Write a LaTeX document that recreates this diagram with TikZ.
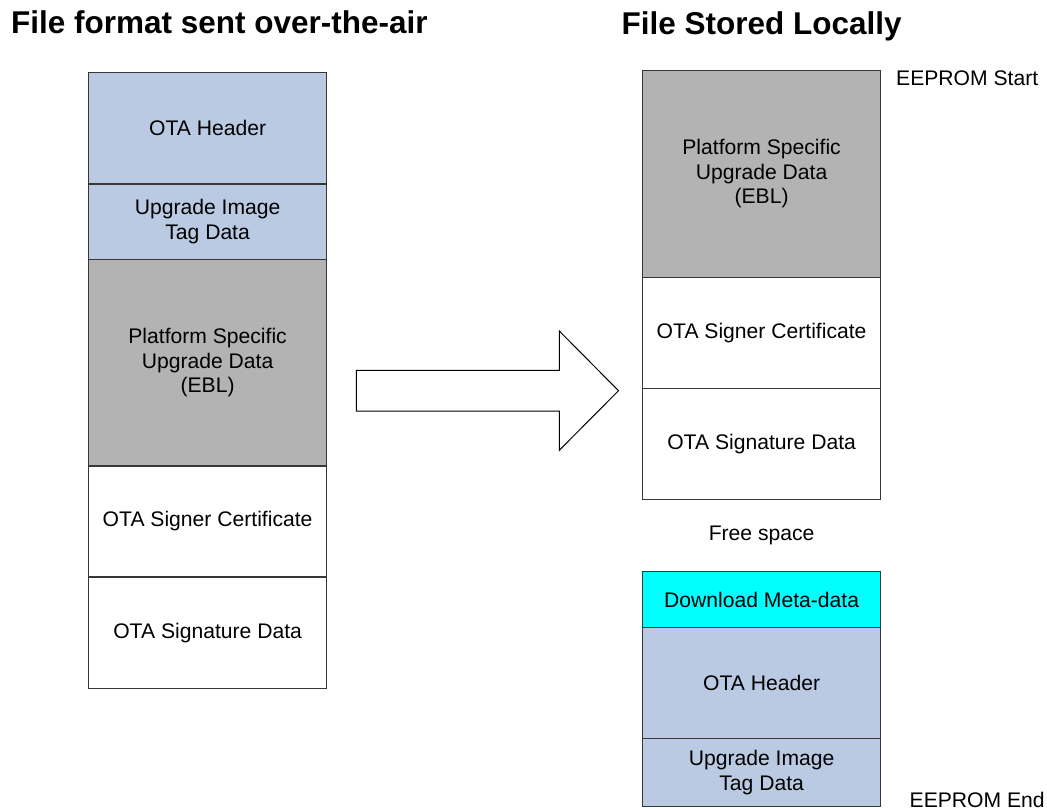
\documentclass[tikz,border=0pt]{standalone}
\usepackage{fontspec}
\setmainfont{Liberation Sans}
\definecolor{otablue}{RGB}{185,202,226}
\definecolor{ebgray}{RGB}{179,179,179}
\definecolor{metacyan}{RGB}{0,255,255}
\definecolor{edge}{RGB}{55,55,55}
\tikzset{
  cell/.style={draw=edge, line width=1.2bp, minimum width=238.2bp, inner sep=0pt, align=center,
    font=\fontsize{21.2}{24.5}\selectfont},
  bluecell/.style={cell, fill=otablue},
  graycell/.style={cell, fill=ebgray},
  whitecell/.style={cell, fill=white},
  cyancell/.style={cell, fill=metacyan},
  title/.style={inner sep=0pt, font=\fontsize{31.6}{37}\selectfont\bfseries},
  lbl/.style={inner sep=0pt, font=\fontsize{21.2}{24.5}\selectfont},
  bigarrow/.style={draw=black, line width=1bp, fill=white, line join=miter}
}
\begin{document}
\begin{tikzpicture}[x=1bp,y=-1bp]
\useasboundingbox (0,0) rectangle (1047,810);
% titles
\node[title, anchor=base west] (t1) at (11,34) {File format sent over-the-air};
\node[title, anchor=base west] (t2) at (621.5,35) {File Stored Locally};
% left column
\node[bluecell, minimum height=111.7bp] (lhead) at (207.6,128.15) {OTA Header};
\node[bluecell, minimum height=75.3bp] (ltag) at (207.6,221.65) {Upgrade Image\\Tag Data};
\node[graycell, minimum height=206.7bp] (lplat) at (207.6,362.65) {Platform Specific\\Upgrade Data\\(EBL)};
\node[whitecell, minimum height=111bp] (lsig) at (207.6,521.5) {OTA Signer Certificate};
\node[whitecell, minimum height=111.3bp] (lsd) at (207.6,632.65) {OTA Signature Data};
% right column
\node[graycell, minimum height=207bp] (rplat) at (761.6,173.8) {Platform Specific\\Upgrade Data\\(EBL)};
\node[whitecell, minimum height=111.4bp] (rsig) at (761.6,333) {OTA Signer Certificate};
\node[whitecell, minimum height=110.6bp] (rsd) at (761.6,444) {OTA Signature Data};
\node[lbl] (free) at (761.6,535) {Free space};
\node[cyancell, minimum height=55.6bp] (rmeta) at (761.6,599.5) {Download Meta-data};
\node[bluecell, minimum height=111bp] (rhead) at (761.6,682.8) {OTA Header};
\node[bluecell, minimum height=68.2bp] (rtag) at (761.6,772.4) {Upgrade Image\\Tag Data};
% side labels
\node[lbl, anchor=base west] (estart) at (896,85.5) {EEPROM Start};
\node[lbl, anchor=base west] (eend) at (909.5,807.5) {EEPROM End};
% block arrow
\draw[bigarrow] (356.3,370.3) -- (559.3,370.3) -- (559.3,331) -- (618.5,390.7)
  -- (559.3,450.3) -- (559.3,411) -- (356.3,411) -- cycle;
\end{tikzpicture}
\end{document}
